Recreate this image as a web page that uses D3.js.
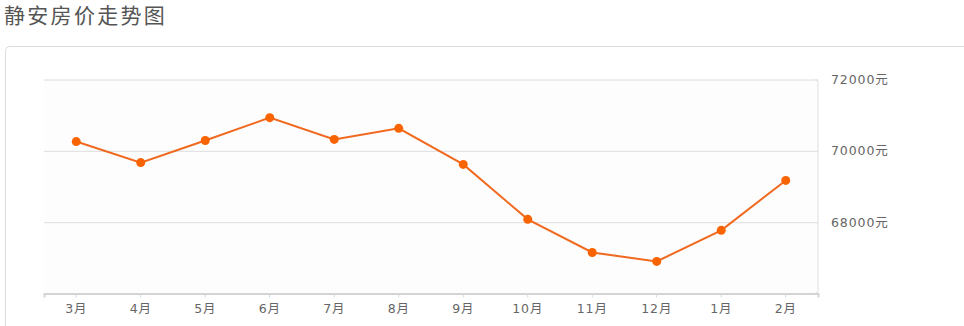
<!DOCTYPE html>
<html>
<head>
<meta charset="utf-8">
<script src="https://cdn.jsdelivr.net/npm/d3@7"></script>
<style>
  body { margin: 0; background: #fff; }
  svg { display: block; }
</style>
</head>
<body>
<div id="chart"></div>
<script>
// 静安房价走势图 - monthly price line
const months = ['3月', '4月', '5月', '6月', '7月', '8月', '9月', '10月', '11月', '12月', '1月', '2月'];
const prices = [70260, 69670, 70290, 70930, 70320, 70630, 69620, 68080, 67150, 66900, 67770, 69170];
const yTicks = [68000, 70000, 72000];

const width = 964, height = 326;
const plot = { left: 44, right: 818, top: 79.5, bottom: 293.5 };

const svg = d3.select('#chart').append('svg')
  .attr('width', width)
  .attr('height', height);

// title
svg.append('text')
  .attr('x', 4)
  .attr('y', 23)
  .attr('fill', '#555')
  .style('font-family', '"Noto Sans CJK SC", sans-serif')
  .style('font-size', '21px')
  .style('letter-spacing', '2.3px')
  .text('静安房价走势图');

// card
svg.append('rect')
  .attr('x', 5.5).attr('y', 46.5)
  .attr('width', 990).attr('height', 320)
  .attr('rx', 4)
  .attr('fill', '#fff')
  .attr('stroke', '#dcdcdc');

const x = d3.scaleBand().domain(months).range([plot.left, plot.right]);
const y = d3.scaleLinear().domain([66000, 72000]).range([plot.bottom, plot.top]);

// plot background + right border with rounded corners
const r = 3;
svg.append('path')
  .attr('d', `M${plot.left},${plot.top}H${plot.right - r}Q${plot.right},${plot.top} ${plot.right},${plot.top + r}` +
    `V${plot.bottom - r}Q${plot.right},${plot.bottom} ${plot.right - r},${plot.bottom}H${plot.left}Z`)
  .attr('fill', '#fdfdfd')
  .attr('stroke', 'none');
svg.append('path')
  .attr('d', `M${plot.right - r},${plot.top}Q${plot.right},${plot.top} ${plot.right},${plot.top + r}` +
    `V${plot.bottom - r}Q${plot.right},${plot.bottom} ${plot.right - r},${plot.bottom}`)
  .attr('fill', 'none')
  .attr('stroke', '#dedede');

const labelFont = '"DejaVu Sans", "Noto Sans CJK SC", sans-serif';

// gridlines + right labels
const yAxis = svg.append('g')
  .attr('transform', `translate(${plot.right},0)`)
  .call(d3.axisRight(y).tickValues(yTicks).tickSize(-(plot.right - plot.left)).tickPadding(13)
    .tickFormat(d => d + '元'));
yAxis.select('.domain').remove();
yAxis.selectAll('line').attr('stroke', '#dedede');
yAxis.selectAll('text')
  .attr('fill', '#666')
  .style('font-family', labelFont)
  .style('font-size', '12.5px')
  .style('letter-spacing', '0.9px');

// x axis
const xAxis = svg.append('g')
  .attr('transform', `translate(0,${plot.bottom})`)
  .call(d3.axisBottom(x).tickSizeOuter(0).tickSize(4).tickPadding(7));
xAxis.select('.domain').attr('stroke', '#d4d4d4').attr('stroke-width', 2);
xAxis.selectAll('line').attr('stroke', '#d8d8d8');
xAxis.selectAll('text')
  .attr('fill', '#666')
  .style('font-family', labelFont)
  .style('font-size', '12.5px')
  .style('letter-spacing', '0.9px');

// line
const cx = d => x(d) + x.bandwidth() / 2;
const line = d3.line()
  .x((d, i) => cx(months[i]))
  .y(d => y(d));

svg.append('path')
  .datum(prices)
  .attr('d', line)
  .attr('fill', 'none')
  .attr('stroke', '#f0691e')
  .attr('stroke-width', 2);

svg.append('g')
  .selectAll('circle')
  .data(prices)
  .join('circle')
  .attr('cx', (d, i) => cx(months[i]))
  .attr('cy', d => y(d))
  .attr('r', 4.5)
  .attr('fill', '#fa6400');
</script>
</body>
</html>
